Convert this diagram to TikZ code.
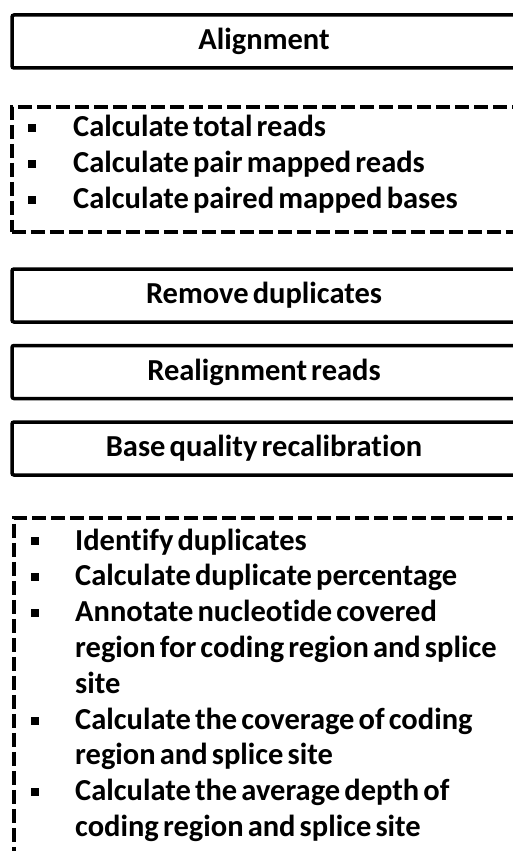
\documentclass[tikz,border=0pt]{standalone}
\usepackage{fontspec}
\setmainfont{Carlito}[Ligatures=NoCommon, WordSpace=0.6]
\begin{document}
\begin{tikzpicture}[x=1pt,y=-1pt,
  stepbox/.style={draw=black, line width=3.5pt, rounded corners=2pt,
    minimum height=53pt, minimum width=504pt, inner sep=0pt,
    font=\fontsize{30.5}{35}\selectfont\bfseries},
  listframe/.style={draw=black, line width=3.5pt, dash pattern=on 14pt off 5pt,
    anchor=north west, inner sep=0pt},
  itemtext/.style={anchor=base west, inner sep=0pt,
    font=\fontsize{30.5}{35}\selectfont\bfseries},
  sq/.style={fill=black, inner sep=0pt, minimum size=7.5pt}]
\useasboundingbox (0,0) rectangle (513,851);
\clip (0,0) rectangle (513,851);
\fill[white] (0,0) rectangle (513,851);

% pipeline steps
\node[stepbox] (align)   at (264,41.5)  {Alignment};
\node[stepbox] (dedup)   at (264,295.5) {Remove duplicates};
\node[stepbox] (realign) at (264,372)   {Realignment reads};
\node[stepbox] (bqsr)    at (264,448.5) {Base quality recalibration};

% metrics after alignment
\node[listframe, minimum width=508pt, minimum height=125pt] (qcA) at (10,105) {};
\node[sq] (qa1) at (32,128) {};
\node[itemtext] (ta1) at (73,136) {Calculate total reads};
\node[sq] (qa2) at (32,164) {};
\node[itemtext] (ta2) at (73,172) {Calculate pair mapped reads};
\node[sq] (qa3) at (32,200) {};
\node[itemtext] (ta3) at (73,208) {Calculate paired mapped bases};

% metrics after recalibration
\node[listframe, minimum width=506pt, minimum height=350pt] (qcB) at (12,516) {};
\node[sq] (qb1) at (35,541) {};
\node[itemtext] (tb1) at (75,550)   {Identify duplicates};
\node[sq] (qb2) at (35,577) {};
\node[itemtext] (tb2) at (75,585.8) {Calculate duplicate percentage};
\node[sq] (qb3) at (35,613) {};
\node[itemtext] (tb3) at (75,621.6) {Annotate nucleotide covered};
\node[itemtext] (tb3b) at (75,657.4) {region for coding region and splice};
\node[itemtext] (tb3c) at (75,693.2) {site};
\node[sq] (qb4) at (35,721) {};
\node[itemtext] (tb4) at (75,729)   {Calculate the coverage of coding};
\node[itemtext] (tb4b) at (75,764.8) {region and splice site};
\node[sq] (qb5) at (35,792) {};
\node[itemtext] (tb5) at (75,800.6) {Calculate the average depth of};
\node[itemtext] (tb5b) at (75,836.4) {coding region and splice site};
\end{tikzpicture}
\end{document}
